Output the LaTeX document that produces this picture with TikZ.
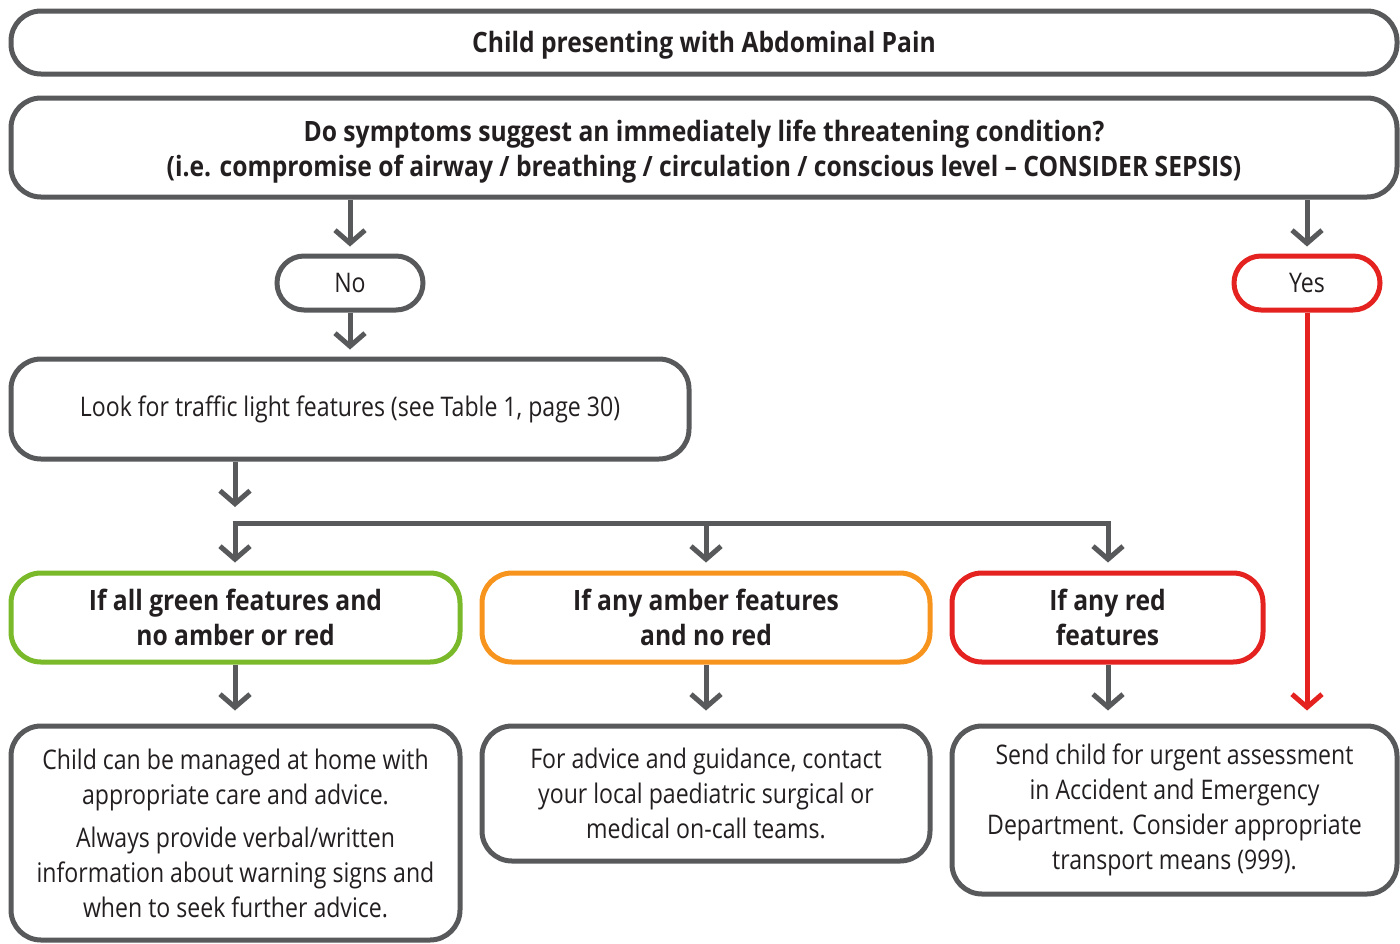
\documentclass[tikz,border=0pt]{standalone}
\usepackage{fontspec}
\setmainfont[FakeStretch=0.855,BoldFeatures={FakeStretch=0.88}]{Open Sans}
\usetikzlibrary{arrows.meta}
\definecolor{dg}{HTML}{58595B}
\definecolor{gr}{HTML}{7AB929}
\definecolor{am}{HTML}{F7941D}
\definecolor{rd}{HTML}{E42320}
\definecolor{tx}{HTML}{231F20}
\begin{document}
\begin{tikzpicture}[x=1pt,y=-1pt,
  box/.style={draw=#1,line width=5pt,rounded corners=30pt,inner sep=0pt,align=center,text=tx},
  box/.default=dg,
  bt/.style={font=\fontsize{28}{35}\selectfont\bfseries},
  rt/.style={font=\fontsize{27}{35}\selectfont},
  arr/.style={draw=dg,line width=5pt,-{Straight Barb[length=13pt,width=30pt]}},
  rarr/.style={arr,draw=rd}]
\useasboundingbox (0,0) rectangle (1400,943);
\node[box,bt,minimum width=1386pt,minimum height=63pt,text height=26pt,text depth=6pt] (title) at (704,42.5) {Child presenting with Abdominal Pain};
\node[box,bt,minimum width=1386pt,minimum height=99pt,text height=63pt,text depth=6pt] (q) at (704,147.5) {Do symptoms suggest an immediately life threatening condition?\\(i.e. compromise of airway / breathing / circulation / conscious level -- CONSIDER SEPSIS)};
\node[box,rt,rounded corners=27pt,minimum width=146pt,minimum height=54pt] (no) at (350,283) {No};
\node[box=rd,rt,rounded corners=27pt,minimum width=146pt,minimum height=54pt] (yes) at (1307,283) {Yes};
\node[box,rt,minimum width=678pt,minimum height=100pt] (look) at (350,409) {Look for traffic light features (see Table 1, page 30)};
\node[box=gr,bt,minimum width=449pt,minimum height=89pt] (green) at (235.5,617.5) {If all green features and\\no amber or red};
\node[box=am,bt,minimum width=448pt,minimum height=89pt] (amber) at (706,617.5) {If any amber features\\and no red};
\node[box=rd,bt,minimum width=311pt,minimum height=89pt] (red) at (1107.5,617.5) {If any red\\features};
\node[box,rt,minimum width=449pt,minimum height=214pt] (o1) at (235.5,833) {Child can be managed at home with\\appropriate care and advice.\\[8pt]Always provide verbal/written\\information about warning signs and\\when to seek further advice.};
\node[box,rt,minimum width=448pt,minimum height=135pt] (o2) at (706,793.5) {For advice and guidance, contact\\your local paediatric surgical or\\medical on-call teams.};
\node[box,rt,minimum width=445pt,minimum height=168pt] (o3) at (1174.5,810) {Send child for urgent assessment\\in Accident and Emergency\\Department. Consider appropriate\\transport means (999).};
\coordinate (bl) at (235,523);
\coordinate (br) at (1108,523);
\draw[arr,shorten >=7pt] (q.south -| no) -- (no.north);
\draw[arr,shorten >=7pt] (q.south -| yes) -- (yes.north);
\draw[arr,shorten >=7pt] (no.south) -- (look.north -| no);
\draw[arr,shorten >=16pt] (look.south -| bl) -- (bl);
\draw[draw=dg,line width=5pt] ([xshift=-2.5pt]bl) -- ([xshift=2.5pt]br);
\draw[arr,shorten >=8pt] (bl) -- (green.north -| bl);
\draw[arr,shorten >=8pt] (bl -| amber) -- (amber.north);
\draw[arr,shorten >=8pt] (br) -- (red.north -| br);
\draw[arr,shorten >=13pt] (green.south -| bl) -- (o1.north -| bl);
\draw[arr,shorten >=13pt] (amber.south) -- (o2.north);
\draw[arr,shorten >=13pt] (red.south -| br) -- (o3.north -| br);
\draw[rarr,shorten >=13pt] (yes.south) -- (o3.north -| yes);
\end{tikzpicture}
\end{document}
